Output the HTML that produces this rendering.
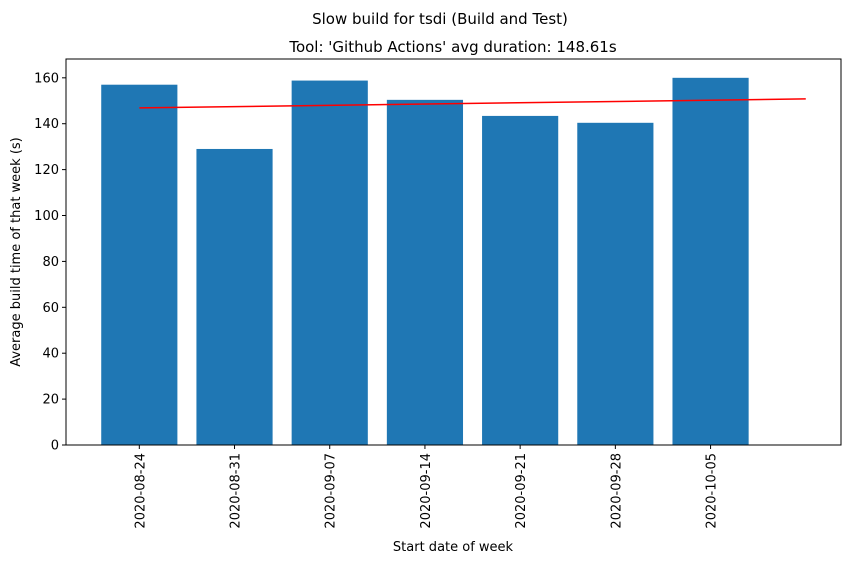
<!DOCTYPE html>
<html><head><meta charset="utf-8"><style>
body{margin:0;background:#fff;font-family:"Liberation Sans","DejaVu Sans",sans-serif;}
svg text{font-family:"DejaVu Sans","Liberation Sans",sans-serif;}
</style></head><body>
<svg id="chart" width="850" height="564" xmlns="http://www.w3.org/2000/svg">
<text x="440" y="24" font-size="15" text-anchor="middle">Slow build for tsdi (Build and Test)</text>
<text x="453" y="52" font-size="15" text-anchor="middle">Tool: 'Github Actions' avg duration: 148.61s</text>
<g id="plot"></g>
<text x="453" y="551" font-size="13" text-anchor="middle">Start date of week</text>
<text transform="translate(20,252) rotate(-90)" font-size="13" text-anchor="middle">Average build time of that week (s)</text>
</svg>
<script>
const categories=["2020-08-24","2020-08-31","2020-09-07","2020-09-14","2020-09-21","2020-09-28","2020-10-05"];
const values=[157,129,158.8,150.4,143.4,140.4,160];
const trendStart=146.9;
const trendEnd=150.8;
const yTicks=[0,20,40,60,80,100,120,140,160];
const L=66,R=841,T=59,B=445;
const xMin=-0.77,xMax=7.37,yMax=168.2;
const xs=v=>L+(v-xMin)/(xMax-xMin)*(R-L);
const ys=v=>B-v/yMax*(B-T);
const NS="http://www.w3.org/2000/svg";
const g=document.getElementById('plot');
function mk(t,a){const e=document.createElementNS(NS,t);for(const k in a)e.setAttribute(k,a[k]);g.appendChild(e);return e;}
values.forEach((v,i)=>{
 const r=mk('rect',{x:xs(i-0.4),y:ys(v),width:xs(0.4)-xs(-0.4),height:B-ys(v),fill:'#1f77b4'});
 
 
 const tk=mk('line',{x1:xs(i),x2:xs(i),y1:B,y2:B+4,stroke:'#000'});
 
 
 const t=mk('text',{transform:`translate(${xs(i)+5},${B+8}) rotate(-90)`,'font-size':13,'text-anchor':'end'});
 t.textContent=categories[i];
 
 
});
const tl=mk('line',{x1:xs(0),y1:ys(trendStart),x2:xs(values.length),y2:ys(trendEnd),stroke:'#ff0000','stroke-width':1.5});


yTicks.forEach(v=>{
 const tk=mk('line',{x1:L-4,x2:L,y1:ys(v),y2:ys(v),stroke:'#000'});
 
 
 const t=mk('text',{x:L-7,y:ys(v)+4.5,'font-size':13,'text-anchor':'end'});
 t.textContent=v;
 
 
});
const fr=mk('rect',{x:L,y:T,width:R-L,height:B-T,fill:'none',stroke:'#000','stroke-width':1});


</script>
</body></html>
